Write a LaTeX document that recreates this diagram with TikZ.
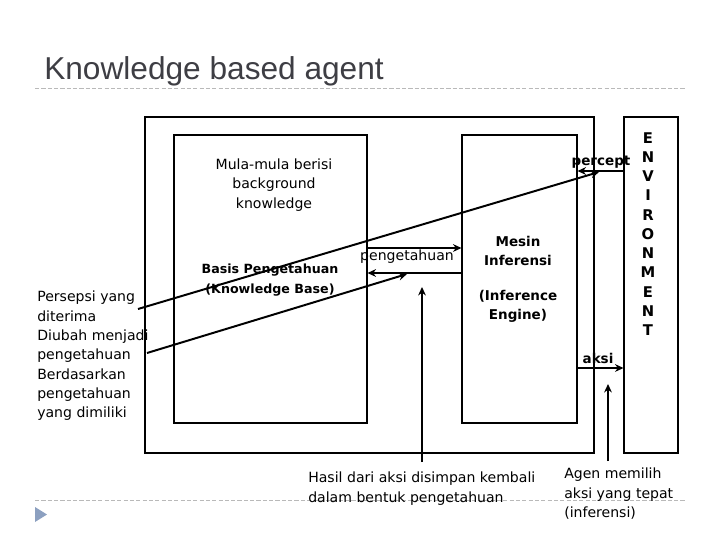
\documentclass[tikz,border=0pt]{standalone}
\usepackage{fontspec}
\setmainfont{DejaVu Sans}
\newfontfamily\kbtitlefont{Liberation Sans}
\usepackage{xcolor}
\usepackage{tikz}
\usetikzlibrary{positioning,arrows.meta,fit}
\definecolor{kbtitlegray}{RGB}{62,62,68}
\definecolor{kbrulegray}{RGB}{185,185,185}
\definecolor{kbbullet}{RGB}{140,160,192}
\tikzset{
    kbbox/.style={draw, rectangle, inner sep=0pt, line width=0.75pt},
    kbtext/.style={align=center, inner sep=0pt, font=\fontsize{10}{13.7}\selectfont},
    kbbold/.style={align=center, inner sep=0pt, font=\bfseries\fontsize{9}{13.7}\selectfont},
    kbnote/.style={align=left, inner sep=0pt, font=\fontsize{10}{13.7}\selectfont},
    kbarrow/.style={draw, -{Stealth[length=6pt, width=5.5pt]}, line width=1.4pt},
    kbrule/.style={draw=kbrulegray, dash pattern=on 3pt off 1.5pt, line width=0.6pt}
}

\begin{document}
\begin{tikzpicture}[x=0.025cm, y=-0.025cm]
    \useasboundingbox (0,0) rectangle (720,540);

    \node[anchor=base west, inner sep=0pt, font=\kbtitlefont\fontsize{22.5}{27}\selectfont, text=kbtitlegray] (title) at (44,79) {Knowledge based agent};
    \draw[kbrule] (35,88) -- (686,88);
    \draw[kbrule] (35,500) -- (686,500);
    \fill[kbbullet] (35,507) -- (47,514.5) -- (35,522) -- cycle;

    \node[kbbox, fit={(145,117) (594,453)}] (agent) {};
    \node[kbbox, fit={(174,135) (367,423)}] (kb) {};
    \node[kbbox, fit={(462,135) (577,423)}] (engine) {};
    \node[kbbox, fit={(624,117) (678,453)}] (env) {};

    \node[kbtext] (kbinit) at (274,185) {Mula-mula berisi\\background\\knowledge};
    \node[kbbold] (kbname) at (270,280) {Basis Pengetahuan\\(Knowledge Base)};
    \node[kbbold, font=\bfseries\fontsize{9.6}{13.7}\selectfont] (engname) at (518,251) {Mesin\\Inferensi};
    \node[kbbold, font=\bfseries\fontsize{9.6}{13.7}\selectfont, below=0.6cm of engname] (engsub) {(Inference\\Engine)};
    \node[kbbold, font=\bfseries\fontsize{10.5}{13.7}\selectfont] (envname) at (648,234) {E\\N\\V\\I\\R\\O\\N\\M\\E\\N\\T};

    \node[kbnote, anchor=north west] (persepsi) at (37,291) {Persepsi yang\\diterima\\Diubah menjadi\\pengetahuan\\Berdasarkan\\pengetahuan\\yang dimiliki};
    \node[kbnote, anchor=north west] (hasil) at (308,472) {Hasil dari aksi disimpan kembali\\dalam bentuk pengetahuan};
    \node[kbnote, anchor=north west] (agen) at (564,468) {Agen memilih\\aksi yang tepat\\(inferensi)};

    \coordinate (perceptrow) at (0,171);
    \coordinate (knowtop) at (0,248);
    \coordinate (knowbot) at (0,273);
    \coordinate (aksirow) at (0,368);

    \draw[kbarrow] (env.west |- perceptrow) -- (engine.east |- perceptrow);
    \draw[kbarrow] (kb.east |- knowtop) -- (engine.west |- knowtop);
    \draw[kbarrow] (engine.west |- knowbot) -- (kb.east |- knowbot);
    \draw[kbarrow] (engine.east |- aksirow) -- (env.west |- aksirow);

    \node[kbbold, font=\bfseries\fontsize{9.6}{13.7}\selectfont] (perceptlbl) at (601,162) {percept};
    \node[kbbold, font=\bfseries\fontsize{9.6}{13.7}\selectfont] (aksilbl) at (598,358) {aksi};
    \node[kbtext] (knowlbl) at (407,257) {pengetahuan};

    \coordinate (perceptfrom) at (138,309);
    \coordinate (perceptto) at (599,172);
    \coordinate (knowfrom) at (147,353);
    \coordinate (knowto) at (407,274);
    \coordinate (savefrom) at (422,462);
    \coordinate (saveto) at (422,287);
    \coordinate (choosefrom) at (608,461);
    \coordinate (chooseto) at (608,384);

    \draw[kbarrow] (perceptfrom) -- (perceptto);
    \draw[kbarrow] (knowfrom) -- (knowto);
    \draw[kbarrow] (savefrom) -- (saveto);
    \draw[kbarrow] (choosefrom) -- (chooseto);
\end{tikzpicture}
\end{document}
